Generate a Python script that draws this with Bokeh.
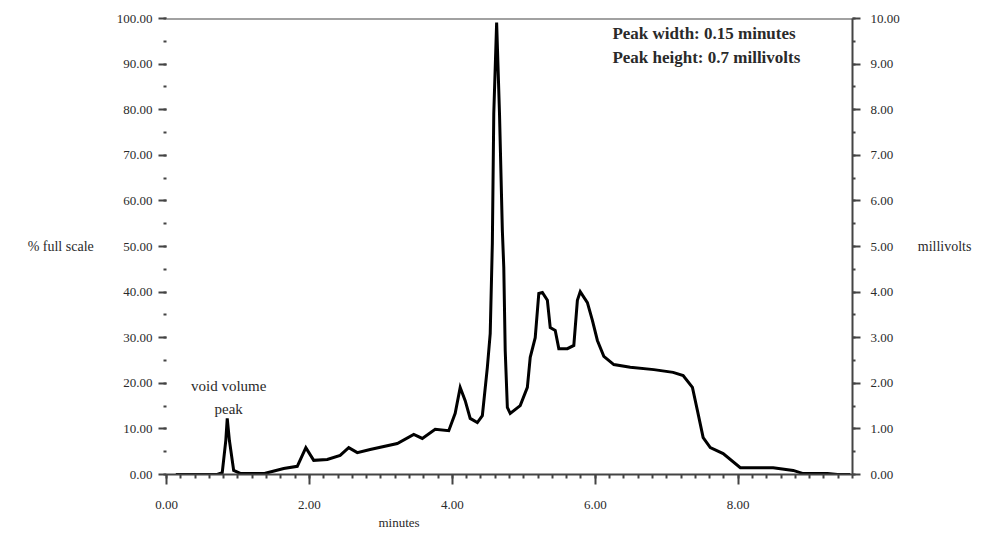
from bokeh.plotting import figure
from bokeh.models import (Range1d, LinearAxis, SingleIntervalTicker, PrintfTickFormatter,
                          Span, Label, Title, ColumnDataSource)
from bokeh.embed import file_html
from bokeh.resources import INLINE

# Chromatogram trace: time (minutes) vs detector response (% full scale)
time_min = [0.13, 0.71, 0.78, 0.83, 0.85, 0.88, 0.94, 1.04, 1.36, 1.41, 1.64, 1.83, 1.95,
            2.06, 2.25, 2.43, 2.55, 2.67, 2.85, 3.23, 3.46, 3.58, 3.76, 3.95, 4.04, 4.11,
            4.18, 4.25, 4.35, 4.42, 4.49, 4.53, 4.56, 4.58, 4.62, 4.66, 4.70, 4.72, 4.74,
            4.77, 4.81, 4.95, 5.05, 5.09, 5.16, 5.21, 5.26, 5.33, 5.37, 5.44, 5.49, 5.61,
            5.70, 5.75, 5.79, 5.89, 5.96, 6.03, 6.12, 6.26, 6.49, 6.82, 7.09, 7.23, 7.36,
            7.43, 7.51, 7.61, 7.79, 8.03, 8.49, 8.77, 8.91, 9.25, 9.39, 9.57]
pct_full_scale = [0.0, 0.0, 0.4, 7.5, 12.3, 7.5, 0.9, 0.2, 0.2, 0.4, 1.3, 1.8, 5.9,
                  3.1, 3.3, 4.2, 5.9, 4.8, 5.5, 6.8, 8.8, 7.9, 9.9, 9.6, 13.4, 19.1,
                  16.2, 12.3, 11.4, 12.9, 23.5, 30.9, 50.7, 79.2, 99.1, 79.2, 53.5, 45.4, 27.2,
                  14.7, 13.4, 15.1, 19.1, 25.7, 30.0, 39.7, 39.9, 38.2, 32.2, 31.6, 27.6, 27.6,
                  28.3, 38.2, 40.1, 37.7, 33.8, 29.4, 25.9, 24.1, 23.5, 23.0, 22.4, 21.7, 19.1,
                  14.0, 8.1, 5.9, 4.6, 1.5, 1.5, 0.9, 0.2, 0.2, 0.0, 0.0]

x_label = "minutes"
y_left_label = "% full scale"
y_right_label = "millivolts"
info_lines = ["Peak width: 0.15 minutes", "Peak height: 0.7 millivolts"]
void_text = ["void volume", "peak"]

FONT = "Liberation Serif"
TXT = "#2a2a2a"
AX = "#444444"
TICK_FS = "13px"
TITLE_FS = "14px"

p = figure(width=976, height=534, x_range=Range1d(0, 9.6), y_range=Range1d(0, 100),
           output_backend="svg", toolbar_location=None,
           min_border_left=166, min_border_right=124, min_border_top=18, min_border_bottom=60)
p.grid.visible = False
p.outline_line_color = None
p.background_fill_color = "white"

# left axis (ticks only, no line)
ya = p.yaxis[0]
ya.ticker = SingleIntervalTicker(interval=10, num_minor_ticks=2)
ya.formatter = PrintfTickFormatter(format="%.2f")
ya.axis_line_color = None
ya.major_tick_out = 8
ya.major_tick_in = 0
ya.minor_tick_out = 3
ya.minor_tick_in = 0
ya.major_tick_line_color = AX
ya.major_tick_line_width = 2
ya.minor_tick_line_color = AX
ya.minor_tick_line_width = 2
ya.major_label_text_font = FONT
ya.major_label_text_font_size = TICK_FS
ya.major_label_text_color = TXT
ya.major_label_standoff = 6
ya.axis_label = y_left_label
ya.axis_label_orientation = "horizontal"
ya.axis_label_text_font = FONT
ya.axis_label_text_font_style = "normal"
ya.axis_label_text_font_size = TITLE_FS
ya.axis_label_text_color = TXT
ya.axis_label_standoff = 20

# right axis in millivolts
p.extra_y_ranges = {"mv": Range1d(0, 10)}
ra = LinearAxis(y_range_name="mv",
                ticker=SingleIntervalTicker(interval=1, num_minor_ticks=2),
                formatter=PrintfTickFormatter(format="%.2f"))
ra.axis_line_color = AX
ra.axis_line_width = 2
ra.major_tick_out = 8
ra.major_tick_in = 0
ra.minor_tick_out = 3
ra.minor_tick_in = 0
ra.major_tick_line_color = AX
ra.major_tick_line_width = 2
ra.minor_tick_line_color = AX
ra.minor_tick_line_width = 2
ra.major_label_text_font = FONT
ra.major_label_text_font_size = TICK_FS
ra.major_label_text_color = TXT
ra.major_label_standoff = 10
ra.axis_label = y_right_label
ra.axis_label_orientation = "horizontal"
ra.axis_label_text_font = FONT
ra.axis_label_text_font_style = "normal"
ra.axis_label_text_font_size = TITLE_FS
ra.axis_label_text_color = TXT
ra.axis_label_standoff = 15
p.add_layout(ra, "right")

# bottom axis
xa = p.xaxis[0]
xa.ticker = SingleIntervalTicker(interval=2, num_minor_ticks=10)
xa.formatter = PrintfTickFormatter(format="%.2f")
xa.axis_line_color = AX
xa.axis_line_width = 2
xa.major_tick_out = 10
xa.major_tick_in = 0
xa.minor_tick_out = 4
xa.minor_tick_in = 0
xa.major_tick_line_color = AX
xa.major_tick_line_width = 2
xa.minor_tick_line_color = AX
xa.minor_tick_line_width = 2
xa.major_label_text_font = FONT
xa.major_label_text_font_size = TICK_FS
xa.major_label_text_color = TXT
xa.major_label_standoff = 16

# x-axis title, placed off-centre as in the original
p.add_layout(Title(text=x_label, align="left", offset=212, standoff=2, text_font=FONT,
                   text_font_style="normal", text_font_size="13px", text_color=TXT),
             "below")

# top border line
p.add_layout(Span(location=100, dimension="width", line_color=AX, line_width=2))

src = ColumnDataSource(dict(t=time_min, v=pct_full_scale))
p.line("t", "v", source=src, line_color="black", line_width=3, line_join="miter")

# text annotations
for i, t in enumerate(info_lines):
    p.add_layout(Label(x=6.24, y=98.7 - i * 5.26, text=t, text_font=FONT,
                       text_font_style="bold", text_font_size="17px", text_color=TXT,
                       text_baseline="top", text_align="left"))
for i, t in enumerate(void_text):
    p.add_layout(Label(x=0.87, y=19.5 - i * 5.2, text=t, text_font=FONT,
                       text_font_size="15px", text_color=TXT,
                       text_baseline="middle", text_align="center"))

open("out.html", "w").write(file_html(p, INLINE))
